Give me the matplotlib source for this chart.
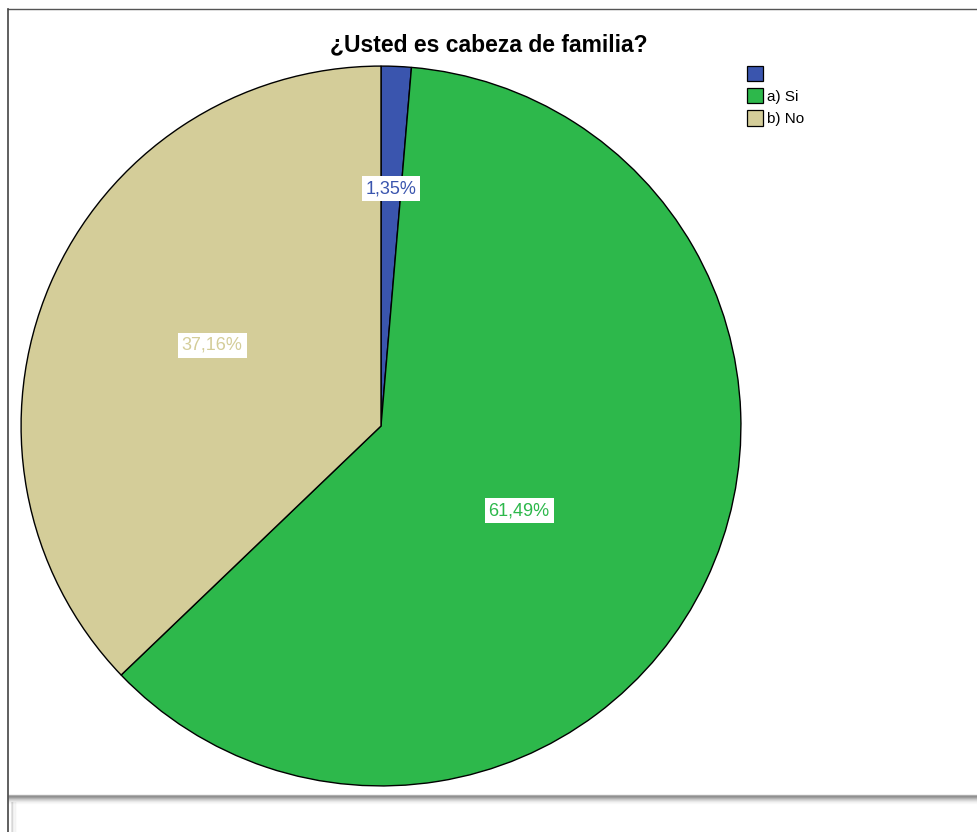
import matplotlib
matplotlib.use("Agg")
import matplotlib.pyplot as plt
import matplotlib.patches as mpatches
import numpy as np

plt.rcParams['font.family'] = ['Liberation Sans', 'DejaVu Sans']

categories = ["", "a) Si", "b) No"]
values = [1.35, 61.49, 37.16]
labels = ["1,35%", "61,49%", "37,16%"]
colors = ["#3A55AE", "#2DB84B", "#D4CD99"]
label_radius = [0.66, 0.45, 0.52]
label_angle_shift = [0.0, -6.0, -2.5]

W, H = 978, 832
fig = plt.figure(figsize=(W / 100, H / 100), dpi=100)

# frame lines
fig.add_artist(plt.Line2D([8 / W, 1], [1 - 9 / H, 1 - 9 / H], color="#555555", lw=1.0))
fig.add_artist(plt.Line2D([8 / W, 8 / W], [0, 1 - 9 / H], color="#444444", lw=1.2))
# shadow band at bottom
for i, a in enumerate([0.45, 0.6, 0.5, 0.38, 0.27, 0.18, 0.11, 0.06, 0.03]):
    y = 1 - (795 + i) / H
    fig.add_artist(plt.Line2D([9 / W, 1], [y, y], color="black", alpha=a * 0.6, lw=1.0))
for i, a in enumerate([0.2, 0.12, 0.06, 0.03]):
    x = (12 + i * 1.5) / W
    fig.add_artist(plt.Line2D([x, x], [0, 1 - 803 / H], color="black", alpha=a * 0.5, lw=1.5))

cx, cy, r = 381, 426, 361
ax = fig.add_axes([(cx - r) / W, 1 - (cy + r) / H, 2 * r / W, 2 * r / H])
wedges, _ = ax.pie(values, colors=colors, startangle=90, counterclock=False,
                   wedgeprops=dict(edgecolor="black", linewidth=1.0))
ax.set_xlim(-1.003, 1.003)
ax.set_ylim(-1.003, 1.003)
ax.axis("off")

cum = 0.0
for v, lab, col, lr, sh in zip(values, labels, colors, label_radius, label_angle_shift):
    mid = 90 - (cum + v / 2) * 3.6 + sh
    cum += v
    x = lr * np.cos(np.radians(mid))
    y = lr * np.sin(np.radians(mid))
    ax.text(x, y, lab, ha="center", va="center", color=col, fontsize=13,
            bbox=dict(boxstyle="square,pad=0.22", facecolor="white", edgecolor="none"))

fig.text(489 / W, 1 - 45 / H, "¿Usted es cabeza de familia?", ha="center", va="center",
         fontsize=16.5, fontweight="bold")

handles = [mpatches.Patch(facecolor=c, edgecolor="black", linewidth=0.9) for c in colors]
fig.legend(handles, categories, loc="upper left", bbox_to_anchor=(747 / W, 1 - 66 / H),
           frameon=False, fontsize=11, handlelength=1.05, handleheight=1.15,
           handletextpad=0.25, labelspacing=0.42, borderpad=0.0, borderaxespad=0.0)

fig.savefig("out.png", dpi=100)
